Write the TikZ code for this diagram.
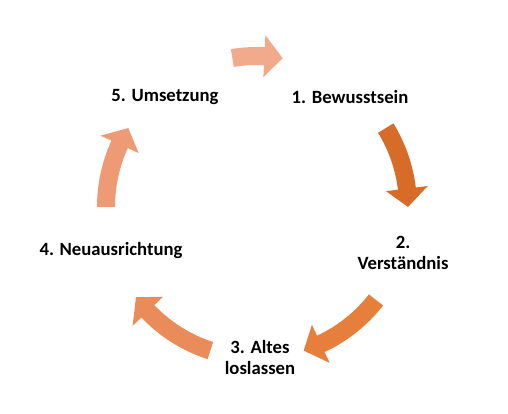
\documentclass[tikz,border=0pt]{standalone}
\usepackage{fontspec}
\setmainfont{Carlito}
\usetikzlibrary{calc}
\definecolor{arA}{RGB}{242,170,140}
\definecolor{arB}{RGB}{214,108,40}
\definecolor{arC}{RGB}{230,127,60}
\definecolor{arD}{RGB}{234,140,90}
\definecolor{arE}{RGB}{238,154,116}
\newcommand\cycarrow[3]{%
  \pgfmathsetmacro\hA{#3+7}%
  \fill[#1] ($(c)+(#2:160pt)$) arc[start angle=#2,end angle=\hA,radius=160pt]
    -- ($(c)+(\hA:172pt)$) -- ($(c)+(#3:151pt)$) -- ($(c)+(\hA:130pt)$)
    -- ($(c)+(\hA:142pt)$) arc[start angle=\hA,end angle=#2,radius=142pt] -- cycle;
}
\tikzset{lbl/.style={font=\fontsize{18.7}{21}\selectfont\bfseries, align=center, inner sep=0pt, text=black}}
\begin{document}
\begin{tikzpicture}[x=1pt,y=1pt]
\fill[white] (0,0) rectangle (508,414);
\useasboundingbox (0,0) rectangle (508,414);
\coordinate (c) at (257,207);
\cycarrow{arA}{99.4}{80.2}
\cycarrow{arB}{31.5}{0}
\cycarrow{arC}{-38}{-72}
\cycarrow{arD}{-108}{-143.3}
\cycarrow{arE}{180}{148.5}
\node[lbl] (n1) at (350,317) {1. Bewusstsein};
\node[lbl] (n2) at (403,161) {2.\\Verständnis};
\node[lbl] (n3) at (260,56) {3. Altes\\loslassen};
\node[lbl] (n4) at (111,163) {4. Neuausrichtung};
\node[lbl] (n5) at (165,317) {5. Umsetzung};
\end{tikzpicture}
\end{document}
